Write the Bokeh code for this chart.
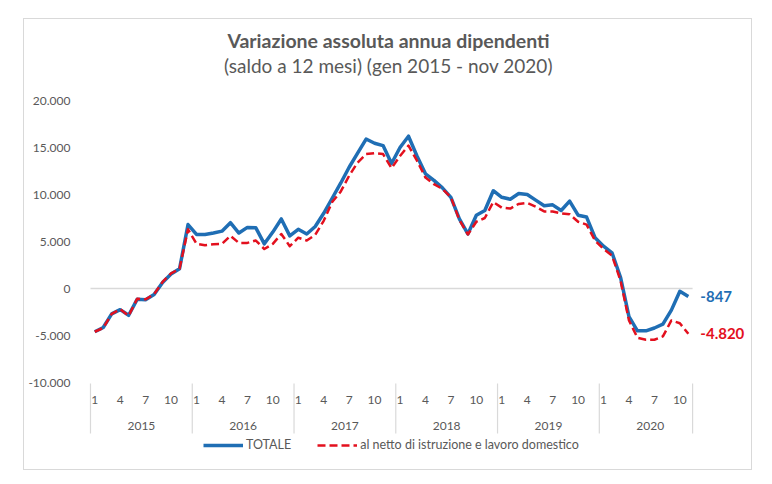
from bokeh.plotting import figure
from bokeh.models import Range1d, FixedTicker, ColumnDataSource, Legend, LegendItem
from bokeh.core.properties import value
from bokeh.embed import file_html
from bokeh.resources import INLINE

# ---------------- data ----------------
years = ["2015", "2016", "2017", "2018", "2019", "2020"]
month_ticks = [1, 4, 7, 10]
totale = [
    -4600, -4150, -2700, -2250, -2850, -1150, -1200, -650, 650, 1550, 2100, 6800,
    5750, 5750, 5900, 6100, 7000, 5900, 6500, 6450, 4750, 6000, 7400, 5600,
    6300, 5800, 6600, 8000, 9600, 11200, 12900, 14400, 15900, 15450, 15200, 13300,
    15000, 16200, 14100, 12200, 11500, 10700, 9700, 7400, 5800, 7800, 8300, 10400,
    9700, 9500, 10100, 10000, 9400, 8800, 8900, 8300, 9300, 7800, 7600, 5400,
    4500, 3800, 1200, -3000, -4500, -4500, -4200, -3800, -2300, -300, -847,
]
netto = [
    -4600, -4200, -2700, -2200, -2900, -1100, -1150, -600, 700, 1600, 2100, 6300,
    4750, 4600, 4700, 4750, 5600, 4850, 4850, 5100, 4200, 4750, 5800, 4500,
    5400, 5100, 5700, 7200, 9200, 10300, 12000, 13400, 14300, 14400, 14300, 12800,
    14100, 15200, 13600, 11800, 11100, 10600, 9700, 7300, 5750, 7100, 7500, 9200,
    8600, 8500, 9000, 9100, 8700, 8200, 8200, 8000, 7900, 7100, 6800, 5100,
    4200, 3500, 850, -3400, -5250, -5450, -5450, -5100, -3400, -3700, -4820,
]
y_ticks = [-10000, -5000, 0, 5000, 10000, 15000, 20000]
series_names = ["TOTALE", "al netto di istruzione e lavoro domestico"]
title_text = "Variazione assoluta annua dipendenti"
subtitle_text = "(saldo a 12 mesi) (gen 2015 - nov 2020)"

# ---------------- helpers ----------------
def fmt_it(v):
    return f"{v:,}".replace(",", ".")

n_pts = len(totale)
idx = list(range(n_pts))
month_of = [i % 12 + 1 for i in idx]

FONT = "Lato"
GREY_TXT = "#595959"
BLUE = "#1f6eb4"
RED = "#e3101e"

# layout constants (page pixels)
PX_PER_MONTH = 8.48
X0_PAGE = 90.0            # left edge of first category
ZERO_PAGE = 288.0
PX_PER_UNIT = 0.0094      # pixels per 1 unit on y
CX0, CY0 = 24, 19         # canvas origin on the page (inside the 1px border)
W, H = 729, 452


def y_at(page_y):
    return (ZERO_PAGE - page_y) / PX_PER_UNIT


def x_at(page_x):
    return (page_x - X0_PAGE) / PX_PER_MONTH - 0.5


frame_l, frame_r, frame_t, frame_b = 80, 752, 19, 470  # page coords

p = figure(width=W, height=H, output_backend="svg", toolbar_location=None,
           x_range=Range1d(x_at(frame_l), x_at(frame_r)),
           y_range=Range1d(y_at(frame_b), y_at(frame_t)),
           min_border_left=frame_l - CX0, min_border_right=(CX0 + W) - frame_r,
           min_border_top=frame_t - CY0, min_border_bottom=(CY0 + H) - frame_b,
           margin=(CY0 - 1, 0, 0, CX0 - 1),
           styles={"border": "1px solid #d9d9d9"})
p.outline_line_color = None
p.grid.visible = False
p.xaxis.visible = False
p.background_fill_color = "white"
p.border_fill_color = "white"

yax = p.yaxis[0]
yax.ticker = FixedTicker(ticks=y_ticks)
yax.major_label_overrides = {t: fmt_it(t) for t in y_ticks}
yax.axis_line_color = None
yax.major_tick_line_color = None
yax.minor_tick_line_color = None
yax.major_label_standoff = 4
yax.major_label_text_font = FONT
yax.major_label_text_font_size = "12px"
yax.major_label_text_color = GREY_TXT

# zero line across the category range
p.segment(x0=[-0.5], x1=[n_pts - 0.5], y0=[0], y1=[0], line_color="#d9d9d9", line_width=1.5)

# category axis: separators, month labels, year labels
bounds = [12 * k - 0.5 for k in range(len(years))] + [n_pts - 0.5]
p.segment(x0=bounds, x1=bounds, y0=[y_at(383)] * len(bounds), y1=[y_at(433)] * len(bounds),
          line_color="#d9d9d9", line_width=1.2)
mx = [i for i in idx if month_of[i] in month_ticks]
p.text(x=mx, y=[y_at(399)] * len(mx), text=[str(month_of[i]) for i in mx],
       text_align="center", text_baseline="middle", text_font=value(FONT),
       text_font_size="12px", text_color=GREY_TXT)
yc = [12 * k + 5.5 for k in range(len(years))]
p.text(x=yc, y=[y_at(425)] * len(years), text=years, text_align="center",
       text_baseline="middle", text_font=value(FONT), text_font_size="12px",
       text_color=GREY_TXT)

# titles
p.text(x=[x_at(388)], y=[y_at(40)], text=[title_text], text_align="center",
       text_baseline="middle", text_font=value(FONT), text_font_size="19.5px",
       text_font_style="bold", text_color=GREY_TXT)
p.text(x=[x_at(388)], y=[y_at(65)], text=[subtitle_text], text_align="center",
       text_baseline="middle", text_font=value(FONT), text_font_size="19px",
       text_color=GREY_TXT)

# series
src = ColumnDataSource(dict(x=idx, tot=totale, net=netto))
r1 = p.line("x", "tot", source=src, line_color=BLUE, line_width=3.5, line_join="round")
r2 = p.line("x", "net", source=src, line_color=RED, line_width=2.5, line_dash="8 4",
            line_join="round")

# end labels
p.text(x=[idx[-1]], y=[totale[-1]], text=[fmt_it(totale[-1])], x_offset=12,
       text_align="left", text_baseline="middle", text_font=value(FONT),
       text_font_size="15px", text_font_style="bold", text_color=BLUE)
p.text(x=[idx[-1]], y=[netto[-1]], text=[fmt_it(netto[-1])], x_offset=12,
       text_align="left", text_baseline="middle", text_font=value(FONT),
       text_font_size="15px", text_font_style="bold", text_color=RED)

legend = Legend(items=[LegendItem(label=series_names[0], renderers=[r1]),
                       LegendItem(label=series_names[1], renderers=[r2])],
                orientation="horizontal", location=(123, 18),
                glyph_width=40, glyph_height=14, label_standoff=3, spacing=26,
                padding=0, margin=0, border_line_color=None,
                background_fill_alpha=0, label_text_font=FONT,
                label_text_font_size="12.5px", label_text_color=GREY_TXT)
p.add_layout(legend)

open("out.html", "w").write(file_html(p, INLINE))
